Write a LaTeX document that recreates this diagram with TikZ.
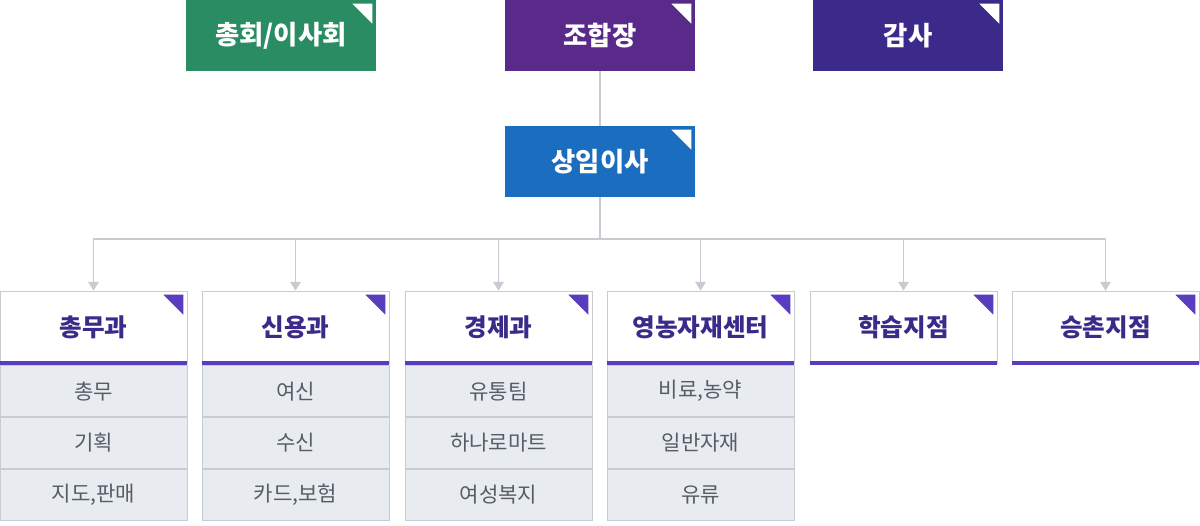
\documentclass[tikz,border=0pt]{standalone}
\usepackage{fontspec}
\setmainfont{Noto Sans CJK KR}
\usetikzlibrary{arrows.meta,calc}
\definecolor{cgreen}{HTML}{2A8C63}
\definecolor{cpurple}{HTML}{5A2A8A}
\definecolor{cindigo}{HTML}{3B2A8A}
\definecolor{cblue}{HTML}{1A6DBF}
\definecolor{cmark}{HTML}{5A3CC0}
\definecolor{cgrayfill}{HTML}{E8ECF1}
\definecolor{cgrayline}{HTML}{C8CCD2}
\definecolor{ctext}{HTML}{555D66}
\begin{document}
\begin{tikzpicture}[x=0.02cm,y=-0.02cm,
top/.style = {fill=#1, text=white, minimum width=3.8cm, minimum height=1.42cm,
            inner sep=0pt, font=\bfseries\fontsize{15}{18}\selectfont},
head/.style = {draw=cgrayline, fill=white, text=cindigo, minimum width=3.74cm,
            minimum height=1.44cm, inner sep=0pt, font=\bfseries\fontsize{14}{17}\selectfont},
item/.style = {draw=cgrayline, fill=cgrayfill, text=ctext, minimum width=3.74cm,
            minimum height=1.02cm, inner sep=0pt, font=\fontsize{12}{15}\selectfont},
line/.style = {draw=cgrayline, line width=0.6pt},
arr/.style = {line, -{Triangle[length=5pt,width=6pt]}}
                ]
    \useasboundingbox (0,0) rectangle (1200,525);
    % corner mark
    \def\cornermark#1#2{\fill[#2] ($(#1.north east)+(-24,4)$) -- ($(#1.north east)+(-4,4)$) -- ($(#1.north east)+(-4,24)$) -- cycle;}
    \node[top=cgreen] (board) at (281,35.5) {총회/이사회};
    \node[top=cpurple] (chief) at (600,35.5) {조합장};
    \node[top=cindigo] (audit) at (908,35.5) {감사};
    \node[top=cblue] (exec) at (600,161.5) {상임이사};
    \coordinate (bus) at (600,239);
    \draw[line] (chief) -- (exec);
    \draw[line] (exec) -- (bus);
    \foreach \n in {board,chief,audit,exec} {\cornermark{\n}{white}}
    \foreach \x/\n/\t in {93.5/h1/총무과, 295.5/h2/신용과, 498.5/h3/경제과,
                           700.5/h4/영농자재센터, 903.5/h5/학습지점, 1105.5/h6/승촌지점} {
        \node[head] (\n) at (\x,327) {\t};
        \draw[cmark, line width=2.3pt] (\n.south west) -- (\n.south east);
        \cornermark{\n}{cmark}
        \draw[arr] (bus) -| (\n.north);
    }
    \foreach \n/\a/\b/\c in {h1/총무/기획/{지도,판매}, h2/여신/수신/{카드,보험},
                             h3/유통팀/하나로마트/여성복지, h4/{비료,농약}/일반자재/유류} {
        \node[item, anchor=north] (\n a) at ([yshift=-0.04cm]\n.south) {\a};
        \node[item, anchor=north] (\n b) at (\n a.south) {\b};
        \node[item, anchor=north] (\n c) at (\n b.south) {\c};
    }
\end{tikzpicture}
\end{document}
